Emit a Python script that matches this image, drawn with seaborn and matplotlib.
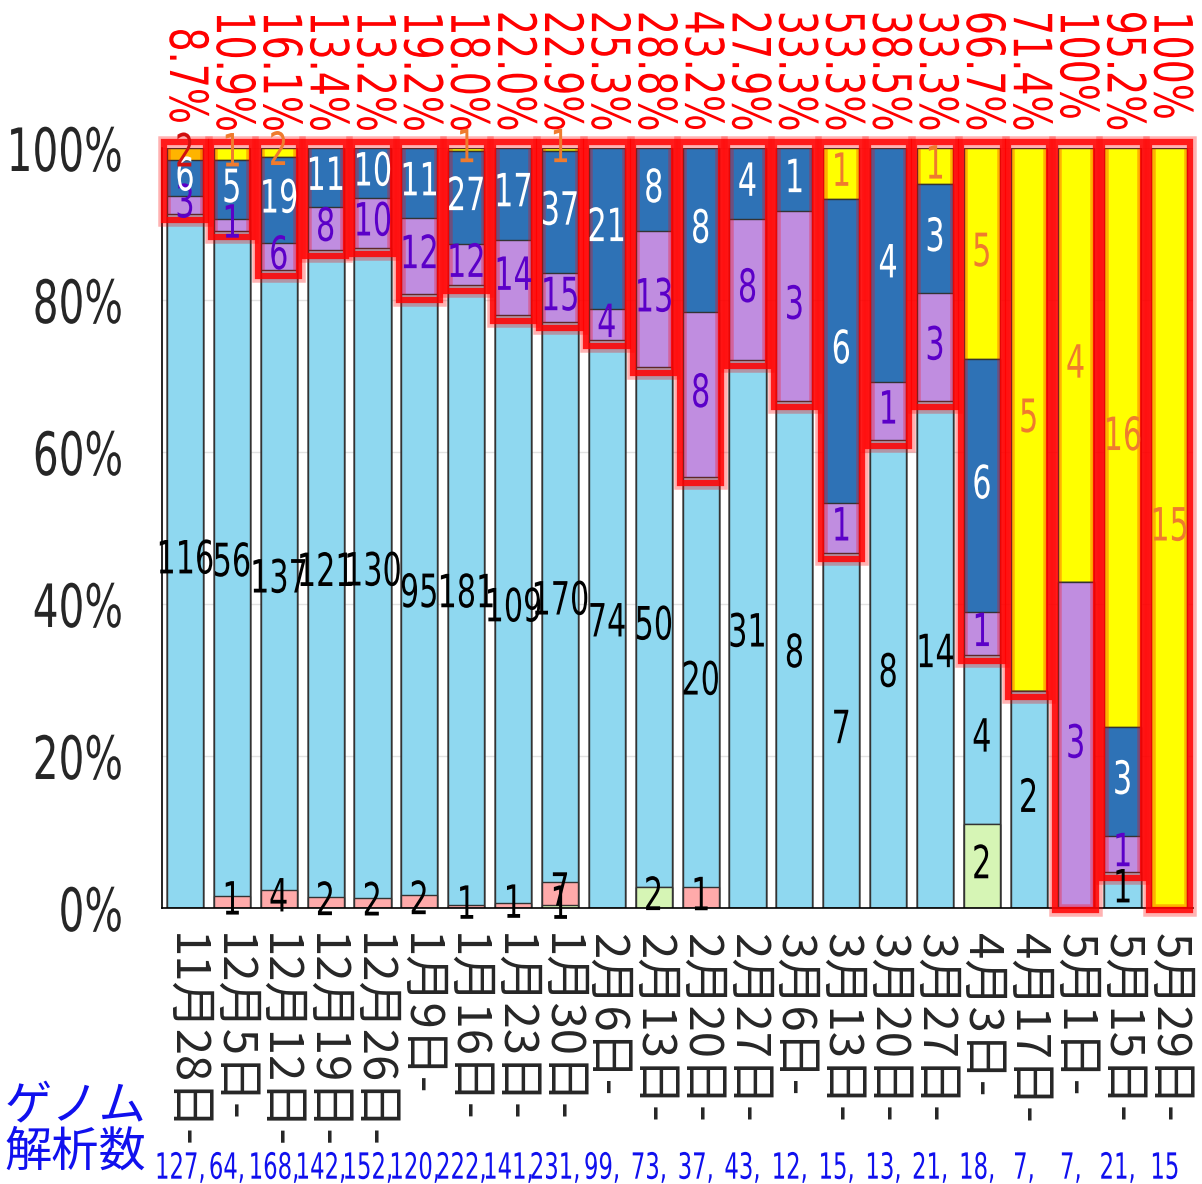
import numpy as np
import pandas as pd
import matplotlib
matplotlib.use('Agg')
import matplotlib.pyplot as plt
from matplotlib import patheffects
from matplotlib.patches import Rectangle
from matplotlib.transforms import Affine2D
import seaborn as sns

# data (counts per week)
dates = ['11月28日', '12月5日', '12月12日', '12月19日', '12月26日', '1月9日', '1月16日',
         '1月23日', '1月30日', '2月6日', '2月13日', '2月20日', '2月27日', '3月6日',
         '3月13日', '3月20日', '3月27日', '4月3日', '4月17日', '5月1日', '5月15日', '5月29日']
totals = [127, 64, 168, 142, 152, 120, 222, 141, 231, 99, 73, 37, 43, 12, 15, 13, 21, 18, 7, 7, 21, 15]
green = [0, 0, 0, 0, 0, 0, 0, 0, 1, 0, 2, 0, 0, 0, 0, 0, 0, 2, 0, 0, 0, 0]
pink = [0, 1, 4, 2, 2, 2, 1, 1, 7, 0, 0, 1, 0, 0, 0, 0, 0, 0, 0, 0, 0, 0]
lightblue = [116, 56, 137, 121, 130, 95, 181, 109, 170, 74, 50, 20, 31, 8, 7, 8, 14, 4, 2, 0, 1, 0]
purple = [3, 1, 6, 8, 10, 12, 12, 14, 15, 4, 13, 8, 8, 3, 1, 1, 3, 1, 0, 3, 1, 0]
darkblue = [6, 5, 19, 11, 10, 11, 27, 17, 37, 21, 8, 8, 4, 1, 6, 4, 3, 6, 0, 0, 3, 0]
orange = [2, 0, 0, 0, 0, 0, 0, 0, 0, 0, 0, 0, 0, 0, 0, 0, 0, 0, 0, 0, 0, 0]
yellow = [0, 1, 2, 0, 0, 0, 1, 0, 1, 0, 0, 0, 0, 0, 1, 0, 1, 5, 5, 4, 16, 15]

layers = [
    (green, '#d6f5b5', 'black'),
    (pink, '#ffaaaa', 'black'),
    (lightblue, '#8fd8f0', 'black'),
    (purple, '#c08de0', '#5b00c8'),
    (darkblue, '#2e72b6', 'white'),
    (orange, '#ffb400', '#d01010'),
    (yellow, '#ffff00', '#ef7b2e'),
]


class Narrow(patheffects.AbstractPathEffect):
    """squeeze text along its reading direction (no narrow font installed)"""
    def __init__(self, sx=0.7, anchor='center'):
        super().__init__()
        self.sx = sx
        self.anchor = anchor

    def draw_path(self, renderer, gc, tpath, affine, rgbFace=None):
        ext = tpath.get_extents()
        cx = {'center': (ext.x0 + ext.x1) / 2, 'left': ext.x0, 'right': ext.x1}[self.anchor]
        t = Affine2D().translate(-cx, 0).scale(self.sx, 1).translate(cx, 0) + affine
        renderer.draw_path(gc, tpath, t, rgbFace)


num_font = 'DejaVu Sans'
jp_font = ['Noto Sans CJK JP', 'DejaVu Sans']

sns.set_style('white')
plt.rcParams['font.family'] = jp_font

fig = plt.figure(figsize=(12.02, 11.84), dpi=100)
ax = fig.add_axes([0.1344, 0.2331, 0.858, 0.6419])

tot = np.array(totals, dtype=float)
pcts = [np.array(v) / tot * 100 for v, _, _ in layers]
cums = np.cumsum(pcts, axis=0)

# stacked bars: draw cumulative heights from the top layer down
for i in range(len(layers) - 1, -1, -1):
    sns.barplot(x=dates, y=cums[i], color=layers[i][1], saturation=1, width=0.77,
                edgecolor='#333333', linewidth=1.0, ax=ax, zorder=2)

# count labels inside segments
for i, (vals, _, tc) in enumerate(layers):
    bottoms = cums[i] - pcts[i]
    for j, v in enumerate(vals):
        if v > 0:
            ax.text(j, bottoms[j] + pcts[i][j] / 2, str(v), ha='center', va='center',
                    color=tc, fontsize=33, family=num_font, zorder=5,
                    path_effects=[Narrow(0.66)])

# red boxes around the non-light-blue part, and red percentages on top
base = cums[2]
for j in range(len(dates)):
    lo = base[j] - 0.8 if base[j] > 0 else -0.3
    for lw, a in [(9, 0.3), (4.5, 0.85)]:
        ax.add_patch(Rectangle((j - 0.44, lo), 0.88, 100.8 - lo, fill=False,
                               edgecolor=(1, 0, 0, a), linewidth=lw, clip_on=False, zorder=4))
    p = 100 - base[j]
    s = '100%' if round(p, 1) >= 100 else f'{p:4.1f}%'
    ax.text(j, 1.182, s, transform=ax.get_xaxis_transform(), rotation=-90,
            ha='center', va='top', color='red', fontsize=38, family=num_font, clip_on=False,
            path_effects=[Narrow(0.72, 'left')])

ax.set_xlim(-0.5, len(dates) - 0.5)
ax.set_ylim(0, 100)
ax.set_yticks(range(0, 101, 20))
ax.set_yticklabels([f'{t}%' for t in range(0, 101, 20)], family=num_font, fontsize=43)
for t in ax.get_yticklabels():
    t.set_path_effects([Narrow(0.68, 'right')])
ax.set_yticks(range(10, 100, 20), minor=True)
ax.tick_params(axis='y', which='major', direction='inout', length=30, width=1.2, pad=12)
ax.tick_params(axis='y', which='minor', direction='out', length=15, width=1.2)
ax.grid(axis='y', color='#e2e2e2', linewidth=1, zorder=0)
ax.set_axisbelow(True)

ax.set_xticks(range(len(dates)))
ax.set_xticklabels([d + '-' for d in dates], rotation=-90, fontsize=34, va='top', ha='center')
ax.set_xticks(np.arange(-0.5, len(dates)), minor=True)
ax.tick_params(axis='x', which='major', length=0, pad=18)
ax.tick_params(axis='x', which='minor', direction='out', length=10, width=1.2)
ax.set_xlabel('')
ax.set_ylabel('')

for side in ['top', 'right']:
    ax.spines[side].set_visible(False)
for side in ['left', 'bottom']:
    ax.spines[side].set_color('black')
    ax.spines[side].set_linewidth(1.2)

# genome count row
fig.text(0.004, 0.006, 'ゲノム\n解析数', color='#1010ee', fontsize=34, ha='left', va='bottom',
         linespacing=0.95)
for j, n in enumerate(totals):
    s = f'{n},' if j < len(totals) - 1 else f'{n}'
    ax.text(j - 0.1, -0.343, s, transform=ax.get_xaxis_transform(), ha='center', va='center',
            color='#1010ee', fontsize=26, family=num_font, clip_on=False,
            path_effects=[Narrow(0.63)])

fig.savefig('out.png', dpi=100)
